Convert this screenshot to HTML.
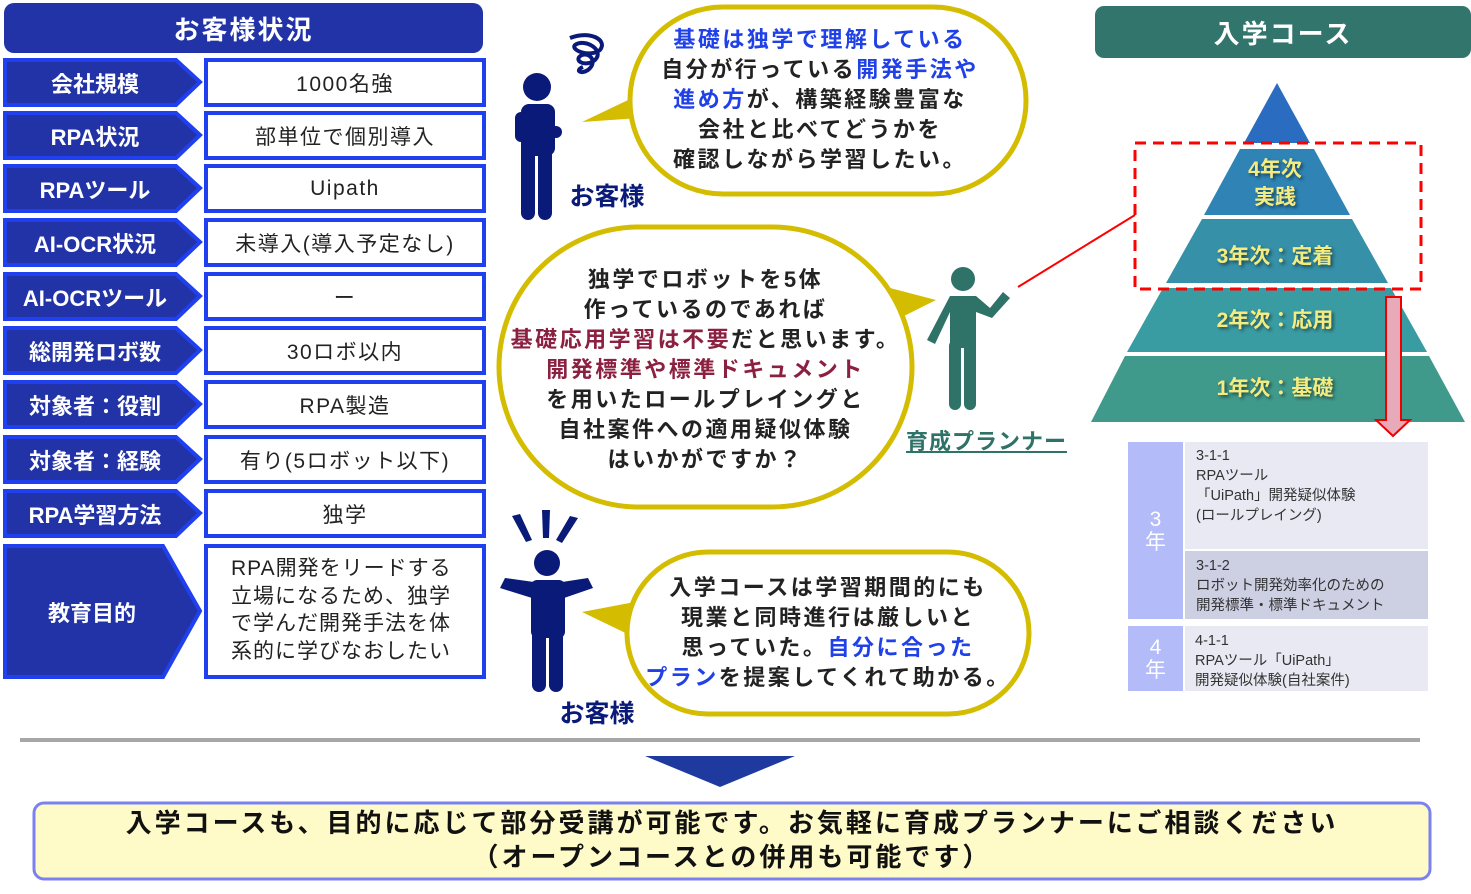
<!DOCTYPE html><html><head><meta charset="utf-8"><style>
body{margin:0;width:1471px;height:894px;position:relative;background:#fff;overflow:hidden;font-family:"Liberation Sans","Noto Sans CJK JP",sans-serif}
.t{position:absolute;display:flex;align-items:center;justify-content:center;text-align:center;white-space:nowrap}
.m{position:absolute;text-align:center;white-space:nowrap}
.lb{color:#fff;font-weight:bold;font-size:22px}
.vl{color:#222;font-size:21px;letter-spacing:1.5px}
.b{font-weight:bold}
.bl{color:#2040e8}.rd{color:#8b2040}
.py{color:#f4ec80;font-weight:bold;font-size:21px;text-shadow:2px 2px 3px rgba(0,0,0,.5)}
.tc{position:absolute;font-size:14.5px;color:#333;line-height:20px}
.bub{font-weight:bold;font-size:22px;line-height:30px;color:#222;letter-spacing:2.5px}
</style></head><body>
<svg width="1471" height="894" style="position:absolute;left:0;top:0">
<rect x="4" y="3" width="479" height="50" rx="10" fill="#2233a8"/>
<g fill="#2233a8" stroke="#2040f0" stroke-width="4">
<path d="M5,60H176L200,82L176,105H5Z"/>
<path d="M5,113H176L200,135L176,158H5Z"/>
<path d="M5,166H176L200,188L176,211H5Z"/>
<path d="M5,220H176L200,242L176,265H5Z"/>
<path d="M5,274H176L200,296L176,319H5Z"/>
<path d="M5,328H176L200,350L176,373H5Z"/>
<path d="M5,382H176L200,404L176,427H5Z"/>
<path d="M5,437H176L200,459L176,482H5Z"/>
<path d="M5,491H176L200,513L176,536H5Z"/>
<path d="M5,546H163L200,611L163,677H5Z"/>
</g>
<g fill="#fff" stroke="#2040f0" stroke-width="4">
<rect x="206" y="60" width="278" height="45"/>
<rect x="206" y="113" width="278" height="45"/>
<rect x="206" y="166" width="278" height="45"/>
<rect x="206" y="220" width="278" height="45"/>
<rect x="206" y="274" width="278" height="45"/>
<rect x="206" y="328" width="278" height="45"/>
<rect x="206" y="382" width="278" height="45"/>
<rect x="206" y="437" width="278" height="45"/>
<rect x="206" y="491" width="278" height="45"/>
<rect x="206" y="546" width="278" height="131"/>
</g>
<g fill="#d4bd00">
<path d="M645,92 L582,122 L640,118Z"/>
<path d="M890,288 L936,300 L900,318Z"/>
<path d="M645,600 L582,612 L640,640Z"/>
</g>
<g fill="#fff" stroke="#d4bd00" stroke-width="5">
<rect x="630" y="7" width="396" height="187" rx="93"/>
<rect x="499" y="227" width="413" height="280" rx="140"/>
<rect x="627" y="552" width="402" height="162" rx="81"/>
</g>
<!-- customer 1 -->
<g fill="#0a1a78">
<circle cx="537" cy="87" r="14"/>
<rect x="521" y="104" width="34" height="52" rx="8"/>
<rect x="521" y="140" width="14" height="80" rx="7"/><rect x="538" y="140" width="14" height="80" rx="7"/>
<rect x="515" y="112" width="12" height="30" rx="6"/>
<rect x="528" y="126" width="34" height="12" rx="6"/>
</g>
<path d="M570,38 C590,30 608,40 600,50 C590,58 570,50 575,45 C585,38 605,50 595,60 C585,68 572,60 582,55 C590,52 598,62 588,70 C580,75 575,70 583,67" fill="none" stroke="#0a1a78" stroke-width="4"/>
<!-- customer 2 -->
<g fill="#0a1a78">
<circle cx="547" cy="563" r="13"/>
<rect x="531" y="580" width="34" height="58" rx="6"/>
<rect x="532" y="620" width="14" height="72" rx="7"/><rect x="549" y="620" width="14" height="72" rx="7"/>
<path d="M534,582 L505,578 L500,588 L532,598Z"/><path d="M562,582 L588,578 L593,588 L564,598Z"/>
<path d="M512,516 L520,514 L532,540 L526,542Z"/><path d="M542,510 L550,510 L549,538 L543,538Z"/><path d="M570,516 L578,518 L562,543 L556,540Z"/>
</g>
<!-- planner -->
<g fill="#2e7268">
<circle cx="963" cy="279" r="12"/>
<path d="M950,296 L976,296 L990,308 L1003,292 L1010,298 L992,318 L976,312 L976,348 L950,348 L950,312 L935,344 L927,340Z"/>
<rect x="949" y="340" width="12" height="70" rx="6"/><rect x="964" y="340" width="12" height="70" rx="6"/>
</g>
<!-- pyramid -->
<rect x="1095" y="6" width="376" height="52" rx="9" fill="#32756c"/>
<path d="M1277,83 L1310,143 L1244,143Z" fill="#2a6cbf"/>
<path d="M1240,149 L1314,149 L1350,215 L1204,215Z" fill="#2f84b5"/>
<path d="M1202,219 L1352,219 L1388,283 L1166,283Z" fill="#3590a8"/>
<path d="M1163,288 L1391,288 L1427,352 L1127,352Z" fill="#3a9ca3"/>
<path d="M1125,356 L1429,356 L1465,422 L1091,422Z" fill="#409a8c"/>
<rect x="1135" y="143" width="286" height="146" fill="none" stroke="#f00" stroke-width="3" stroke-dasharray="11,7"/>
<line x1="1018" y1="287" x2="1135" y2="215" stroke="#f00" stroke-width="2"/>
<path d="M1386,297 H1401 V420 H1410 L1393,436 L1376,420 H1386Z" fill="#e8aab8" stroke="#e00" stroke-width="2"/>
<!-- course table -->
<rect x="1128" y="442" width="55" height="177" fill="#b3bbf8"/>
<rect x="1185" y="442" width="243" height="107" fill="#e8e9f2"/>
<rect x="1185" y="551" width="243" height="68" fill="#cdcfe3"/>
<rect x="1128" y="626" width="55" height="65" fill="#b3bbf8"/>
<rect x="1185" y="626" width="243" height="65" fill="#e8e9f2"/>
<!-- bottom -->
<rect x="20" y="738" width="1400" height="4" fill="#a6a6a6"/>
<path d="M645,756 L795,756 L720,787Z" fill="#1f3a9f"/>
<rect x="34" y="803" width="1396" height="76" rx="10" fill="#fffbc8" stroke="#7b82f0" stroke-width="3"/>
</svg>
<div class="t" style="left:4px;top:3px;width:479px;height:50px;color:#fff;font-size:26px;font-weight:bold;letter-spacing:2px">お客様状況</div>
<div class="t lb" style="left:0;top:60px;width:190px;height:45px">会社規模</div>
<div class="t lb" style="left:0;top:113px;width:190px;height:45px">RPA状況</div>
<div class="t lb" style="left:0;top:166px;width:190px;height:45px">RPAツール</div>
<div class="t lb" style="left:0;top:220px;width:190px;height:45px">AI-OCR状況</div>
<div class="t lb" style="left:0;top:274px;width:190px;height:45px">AI-OCRツール</div>
<div class="t lb" style="left:0;top:328px;width:190px;height:45px">総開発ロボ数</div>
<div class="t lb" style="left:0;top:382px;width:190px;height:45px">対象者：役割</div>
<div class="t lb" style="left:0;top:437px;width:190px;height:45px">対象者：経験</div>
<div class="t lb" style="left:0;top:491px;width:190px;height:45px">RPA学習方法</div>
<div class="t lb" style="left:0;top:546px;width:184px;height:131px">教育目的</div>
<div class="t vl" style="left:206px;top:60px;width:278px;height:45px">1000名強</div>
<div class="t vl" style="left:206px;top:113px;width:278px;height:45px">部単位で個別導入</div>
<div class="t vl" style="left:206px;top:166px;width:278px;height:45px">Uipath</div>
<div class="t vl" style="left:206px;top:220px;width:278px;height:45px">未導入(導入予定なし)</div>
<div class="t vl" style="left:206px;top:274px;width:278px;height:45px">ー</div>
<div class="t vl" style="left:206px;top:328px;width:278px;height:45px">30ロボ以内</div>
<div class="t vl" style="left:206px;top:382px;width:278px;height:45px">RPA製造</div>
<div class="t vl" style="left:206px;top:437px;width:278px;height:45px">有り(5ロボット以下)</div>
<div class="t vl" style="left:206px;top:491px;width:278px;height:45px">独学</div>
<div class="vl" style="position:absolute;left:231px;top:555px;line-height:27.5px;letter-spacing:1px">RPA開発をリードする<br>立場になるため、独学<br>で学んだ開発手法を体<br>系的に学びなおしたい</div>
<div class="m bub" style="left:630px;top:25px;width:380px"><span class="bl">基礎は独学で理解している</span><br>自分が行っている<span class="bl">開発手法や</span><br><span class="bl">進め方</span>が、構築経験豊富な<br>会社と比べてどうかを<br>確認しながら学習したい。</div>
<div class="m bub" style="left:499px;top:265px;width:413px">独学でロボットを5体<br>作っているのであれば<br><span class="rd">基礎応用学習は不要</span>だと思います。<br><span class="rd">開発標準や標準ドキュメント</span><br>を用いたロールプレイングと<br>自社案件への適用疑似体験<br>はいかがですか？</div>
<div class="m bub" style="left:627px;top:573px;width:402px">入学コースは学習期間的にも<br>現業と同時進行は厳しいと<br>思っていた。<span class="bl">自分に合った</span><br><span class="bl">プラン</span>を提案してくれて助かる。</div>
<div class="t b" style="left:562px;top:180px;width:90px;height:30px;font-size:25px;color:#0a1a78">お客様</div>
<div class="t b" style="left:552px;top:697px;width:90px;height:30px;font-size:25px;color:#0a1a78">お客様</div>
<div class="t b" style="left:900px;top:425px;width:173px;height:30px;font-size:22px;color:#2e7268;text-decoration:underline;letter-spacing:1px">育成プランナー</div>
<div class="t" style="left:1095px;top:6px;width:376px;height:52px;color:#fff;font-size:26px;font-weight:bold;letter-spacing:2px">入学コース</div>
<div class="t py" style="left:1200px;top:155px;width:150px;height:58px;line-height:28px">4年次<br>実践</div>
<div class="t py" style="left:1180px;top:240px;width:190px;height:30px">3年次：定着</div>
<div class="t py" style="left:1180px;top:304px;width:190px;height:30px">2年次：応用</div>
<div class="t py" style="left:1180px;top:372px;width:190px;height:30px">1年次：基礎</div>
<div class="t" style="left:1128px;top:442px;width:55px;height:177px;color:#fff;font-size:21px;line-height:23px">3<br>年</div>
<div class="t" style="left:1128px;top:626px;width:55px;height:65px;color:#fff;font-size:21px;line-height:23px">4<br>年</div>
<div class="tc" style="left:1196px;top:446px">3-1-1<br>RPAツール<br>「UiPath」開発疑似体験<br>(ロールプレイング)</div>
<div class="tc" style="left:1196px;top:556px">3-1-2<br>ロボット開発効率化のための<br>開発標準・標準ドキュメント</div>
<div class="tc" style="left:1195px;top:631px">4-1-1<br>RPAツール「UiPath」<br>開発疑似体験(自社案件)</div>
<div class="m b" style="left:34px;top:806px;width:1396px;font-size:26px;line-height:34px;color:#111;letter-spacing:3px">入学コースも、目的に応じて部分受講が可能です。お気軽に育成プランナーにご相談ください<br>（オープンコースとの併用も可能です）</div>
</body></html>
